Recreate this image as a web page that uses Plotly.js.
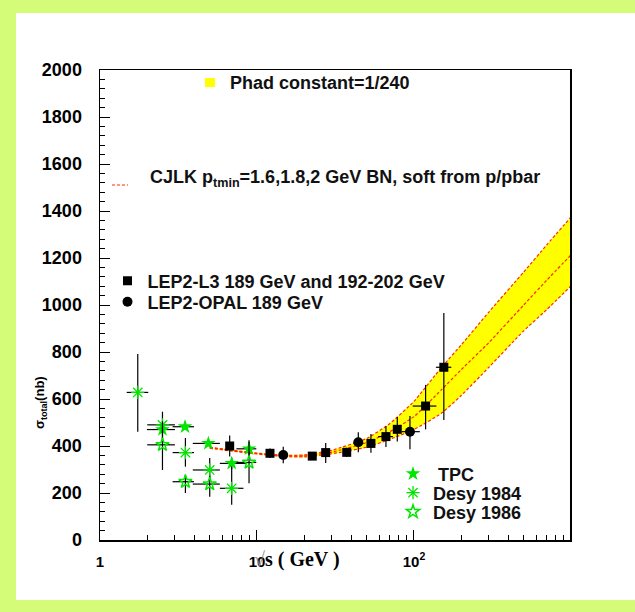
<!DOCTYPE html>
<html><head><meta charset="utf-8">
<script src="https://cdn.plot.ly/plotly-3.0.1.min.js"></script>
<style>html,body{margin:0;padding:0;background:#d4fc79;}</style>
</head><body>
<div id="chart" style="width:635px;height:612px;"></div>
<script>
// Band (CJLK curves, pt_min = 2.0 / 1.8 / 1.6 GeV)
var bandE     = [5, 7, 10, 15, 20, 30, 50, 70, 100, 150, 200, 300, 500, 700, 1000];
var bandLower = [391, 378, 366, 355, 354, 367, 395, 428, 470, 540, 615, 735, 890, 980, 1081];
var bandMid   = [393, 380, 368, 357, 358, 374, 415, 460, 525, 640, 725, 840, 1000, 1105, 1213];
var bandUpper = [395, 382, 370, 360, 362, 382, 432, 495, 590, 735, 830, 970, 1140, 1255, 1374];

// LEP2-L3
var l3E    = [6.7, 12.1, 22.5, 27.4, 37.3, 53.2, 66.3, 78.3, 118.6, 155];
var l3S    = [400, 369, 357, 372, 373, 411, 440, 471, 570, 735];
var l3Ep   = [45, 20, 12, 41, 20, 40, 44, 52, 90, 231];
var l3Em   = [45, 20, 12, 44, 20, 40, 44, 52, 99, 224];
var l3Xp   = [0, 0, 0, 0, 0, 0, 7.2, 0, 20.4, 18];
var l3Xm   = [0, 0, 0, 0, 0, 0, 7.1, 0, 20.4, 17];

// LEP2-OPAL
var opE  = [14.7, 44.2, 94.3];
var opS  = [362, 416, 461];
var opEp = [35, 43, 67];
var opEm = [35, 43, 75];
var opXp = [0, 0, 14.7];
var opXm = [0, 0, 10.7];

// TPC
var tpcE  = [2.5, 3.48, 4.9, 6.9, 8.9];
var tpcS  = [470, 482, 411, 326, 388];
var tpcEp = [15, 10, 12, 25, 37];
var tpcEm = [15, 10, 12, 25, 37];
var tpcXp = [0.5, 0.49, 0.9, 1.7, 1.0];
var tpcXm = [0.51, 0.58, 1.0, 1.1, 1.5];

// Desy 1984
var d84E  = [1.74, 2.5, 3.5, 5.0, 6.9];
var d84S  = [628, 490, 372, 298, 220];
var d84Ep = [164, 56, 62, 51, 90];
var d84Em = [167, 60, 60, 45, 70];
var d84Xp = [0.29, 0.5, 0.47, 0.8, 1.3];
var d84Xm = [0.26, 0.5, 0.6, 1.1, 1.1];

// Desy 1986
var d86E  = [2.5, 3.5, 5.0, 8.9];
var d86S  = [405, 248, 238, 330];
var d86Ep = [100, 30, 35, 88];
var d86Em = [107, 48, 54, 88];
var d86Xp = [0.5, 0.47, 0.8, 1.0];
var d86Xm = [0.5, 0.6, 1.1, 1.5];

var green = '#00e600';
var redLine = {color: '#ff2a00', width: 1.2, dash: '3px,2px', shape: 'spline', smoothing: 0.5};

function errY(p, m) { return {type: 'data', symmetric: false, array: p, arrayminus: m, color: '#000', thickness: 1.2, width: 0}; }
function errX(p, m) { return {type: 'data', symmetric: false, array: p, arrayminus: m, color: '#000', thickness: 1.2, width: 0}; }

var traces = [
  {x: bandE, y: bandLower, mode: 'lines', line: redLine, showlegend: false, hoverinfo: 'skip'},
  {x: bandE, y: bandUpper, mode: 'lines', line: redLine, fill: 'tonexty', fillcolor: '#ffff00', showlegend: false, hoverinfo: 'skip'},
  {x: bandE, y: bandMid, mode: 'lines', line: redLine, showlegend: false, hoverinfo: 'skip'},
  {x: l3E, y: l3S, mode: 'markers', name: 'LEP2-L3 189 GeV and 192-202 GeV', legend: 'legend',
   marker: {symbol: 'square', size: 9, color: '#000'}, error_y: errY(l3Ep, l3Em), error_x: errX(l3Xp, l3Xm)},
  {x: opE, y: opS, mode: 'markers', name: 'LEP2-OPAL 189 GeV', legend: 'legend2',
   marker: {symbol: 'circle', size: 10, color: '#000'}, error_y: errY(opEp, opEm), error_x: errX(opXp, opXm)},
  {x: tpcE, y: tpcS, mode: 'markers', name: ' TPC', legend: 'legend3',
   marker: {symbol: 'star', size: 11, color: green, line: {width: 0}}, error_y: errY(tpcEp, tpcEm), error_x: errX(tpcXp, tpcXm)},
  {x: d84E, y: d84S, mode: 'markers', name: 'Desy 1984', legend: 'legend4',
   marker: {symbol: 'asterisk-open', size: 11, color: green, line: {color: green, width: 1.3}}, error_y: errY(d84Ep, d84Em), error_x: errX(d84Xp, d84Xm)},
  {x: d86E, y: d86S, mode: 'markers', name: 'Desy 1986', legend: 'legend5',
   marker: {symbol: 'star-open', size: 10, color: green, line: {color: green, width: 1.5}}, error_y: errY(d86Ep, d86Em), error_x: errX(d86Xp, d86Xm)}
];

var L = 100, R = 570, T = 70, B = 540, W = R - L, H = B - T;
function px(x) { return (x - L) / W; }
function py(y) { return (B - y) / H; }

var legFont = {family: 'Liberation Sans, Arial, sans-serif', size: 18, weight: 'bold', color: '#111'};
function leg(xp, yp) {
  return {x: px(xp), y: py(yp), xanchor: 'left', yanchor: 'middle', bgcolor: 'rgba(0,0,0,0)', borderwidth: 0, font: legFont};
}

var layout = {
  width: 635, height: 612,
  margin: {l: L, r: 635 - R, t: T, b: 612 - B, pad: 0},
  paper_bgcolor: '#d4fc79',
  plot_bgcolor: 'rgba(0,0,0,0)',
  showlegend: true,
  xaxis: {
    type: 'log', range: [0, 2.994],
    tickvals: [1, 10, 100], ticktext: ['1', '10', '10<sup>2</sup>'],
    ticks: 'inside', ticklen: 10, tickwidth: 1, tickcolor: '#000',
    showline: true, linecolor: '#000', linewidth: 1.5, mirror: true,
    showgrid: false, zeroline: false,
    tickfont: {family: 'Liberation Sans, Arial, sans-serif', size: 15, weight: 'bold', color: '#000'},
    ticklabelstandoff: 7,
    minor: {ticks: 'inside', ticklen: 5, dtick: 'D1', tickcolor: '#000', tickwidth: 1, showgrid: false}
  },
  yaxis: {
    range: [0, 2000], dtick: 200,
    ticks: 'inside', ticklen: 10, tickwidth: 1, tickcolor: '#000',
    showline: true, linecolor: '#000', linewidth: 1.5, mirror: true,
    showgrid: false, zeroline: false,
    tickfont: {family: 'Liberation Sans, Arial, sans-serif', size: 18, weight: 'bold', color: '#000'},
    ticklabelstandoff: 13,
    minor: {ticks: 'inside', ticklen: 5, dtick: 40, tickcolor: '#000', tickwidth: 1, showgrid: false}
  },
  legend: leg(107.5, 281),
  legend2: leg(107.5, 302),
  legend3: leg(393, 474),
  legend4: leg(393, 493),
  legend5: leg(393, 512),
  shapes: [
    {type: 'rect', xref: 'paper', yref: 'paper', x0: px(16), x1: px(640), y0: py(600), y1: py(13),
     fillcolor: '#ffffff', line: {width: 0}, layer: 'below'},
    {type: 'rect', xref: 'paper', yref: 'paper', x0: px(205), x1: px(215), y0: py(87), y1: py(78),
     fillcolor: '#ffff00', line: {width: 0}},
    {type: 'line', xref: 'paper', yref: 'paper', x0: px(112), x1: px(128), y0: py(185), y1: py(185),
     line: {color: '#ff2a00', width: 1, dash: '3px,2px'}}
  ],
  annotations: [
    {xref: 'paper', yref: 'paper', x: px(228), y: py(83), xanchor: 'left', yanchor: 'middle', showarrow: false,
     text: 'Phad constant=1/240', font: legFont},
    {xref: 'paper', yref: 'paper', x: px(148), y: py(179), xanchor: 'left', yanchor: 'middle', showarrow: false,
     text: 'CJLK p<sub>tmin</sub>=1.6,1.8,2 GeV BN, soft from p/pbar', font: legFont},
    {xref: 'paper', yref: 'paper', x: px(297), y: py(559), xanchor: 'center', yanchor: 'middle', showarrow: false,
     text: '<span style="color:#888;font-weight:normal">√</span>s ( GeV )',
     font: {family: 'Liberation Serif, Times New Roman, serif', size: 20, weight: 'bold', color: '#000'}},
    {xref: 'paper', yref: 'paper', x: px(40), y: py(403), xanchor: 'center', yanchor: 'middle', showarrow: false,
     textangle: -90, text: 'σ<sub>total</sub>(nb)',
     font: {family: 'Liberation Sans, Arial, sans-serif', size: 13, weight: 'bold', color: '#000'}}
  ]
};

Plotly.newPlot('chart', traces, layout, {staticPlot: true, displayModeBar: false});
</script>
</body></html>
